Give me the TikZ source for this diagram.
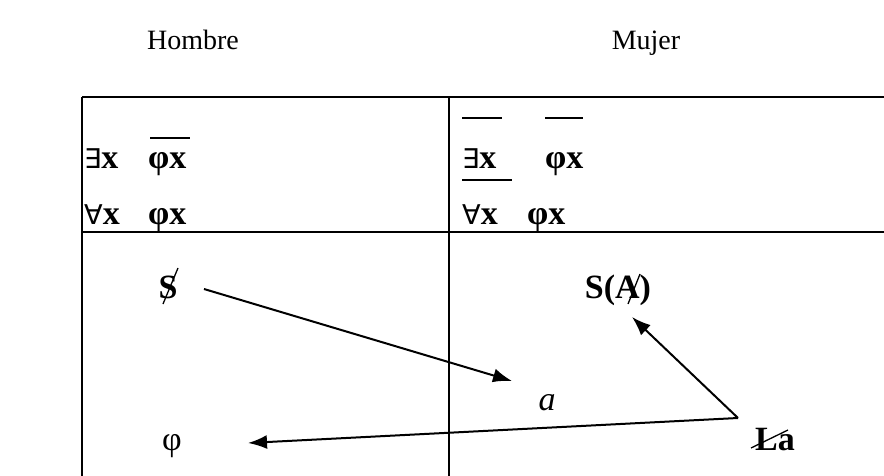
\documentclass[tikz,border=0pt]{standalone}
\usepackage{fontspec}
\setmainfont{Liberation Serif}
\newfontfamily\quantfont{DejaVu Sans}[Scale=0.8]
\usetikzlibrary{arrows.meta}
\begin{document}
\begin{tikzpicture}[x=1pt,y=-1pt,
  head/.style={inner sep=0pt,anchor=base,font=\fontsize{28}{30}\selectfont},
  lbl/.style={inner sep=0pt,font=\fontsize{34}{36}\selectfont},
  frm/.style={line width=2.4pt},
  bar/.style={line width=1.6pt},
  strike/.style={line width=1.3pt},
  arr/.style={line width=2pt,-{Latex[length=19pt,width=14pt]}}]
\useasboundingbox (0,0) rectangle (884,476);
% headings
\node[head] (hombre) at (193,50) {Hombre};
\node[head] (mujer) at (646,50) {Mujer};
% frame
\coordinate (tl) at (82,97);
\coordinate (tr) at (884,97);
\coordinate (ml) at (82,232);
\coordinate (mr) at (884,232);
\coordinate (bl) at (82,476);
\coordinate (tm) at (449,97);
\coordinate (bm) at (449,476);
\draw[frm] (tl) -- (tr);
\draw[frm] (ml) -- (mr);
\draw[line width=2pt] (tl) -- (bl);
\draw[line width=2pt] (tm) -- (bm);
% left formulas
\node[lbl,anchor=base west] (e1) at (84,168) {{\quantfont ∃}\textbf{x}};
\node[lbl,anchor=base west] (p1) at (148,168) {\textbf{φx}};
\node[lbl,anchor=base west] (a1) at (84,224) {{\quantfont ∀}\textbf{x}};
\node[lbl,anchor=base west] (p2) at (148,224) {\textbf{φx}};
\draw[bar] (150,138) -- (190,138);
% right formulas
\node[lbl,anchor=base west] (e2) at (462,168) {{\quantfont ∃}\textbf{x}};
\node[lbl,anchor=base west] (p3) at (545,168) {\textbf{φx}};
\node[lbl,anchor=base west] (a2) at (462,224) {{\quantfont ∀}\textbf{x}};
\node[lbl,anchor=base west] (p4) at (527,224) {\textbf{φx}};
\draw[bar] (462,118) -- (502,118);
\draw[bar] (545,118) -- (583,118);
\draw[bar] (462,180) -- (512,180);
% lower part
\node[lbl,anchor=base] (S) at (168,298) {\textbf{S}};
\draw[strike] (163,304) -- (178,268);
\node[lbl,anchor=base] (SA) at (618,298) {\textbf{S(A)}};
\draw[strike] (628,304) -- (640,274);
\node[lbl,anchor=base] (a) at (547,410) {\textit{a}};
\node[lbl,anchor=base] (phi) at (172,450) {φ};
\node[lbl,anchor=base] (La) at (775,450) {\textbf{La}};
\draw[strike] (751,448) -- (788,430);
% arrows
\coordinate (s1) at (204,289);
\coordinate (t1) at (512,381);
\coordinate (j) at (738,418);
\coordinate (t2) at (632,317);
\coordinate (t3) at (248,443);
\draw[arr] (s1) -- (t1);
\draw[arr] (j) -- (t2);
\draw[arr] (j) -- (t3);
\end{tikzpicture}
\end{document}
